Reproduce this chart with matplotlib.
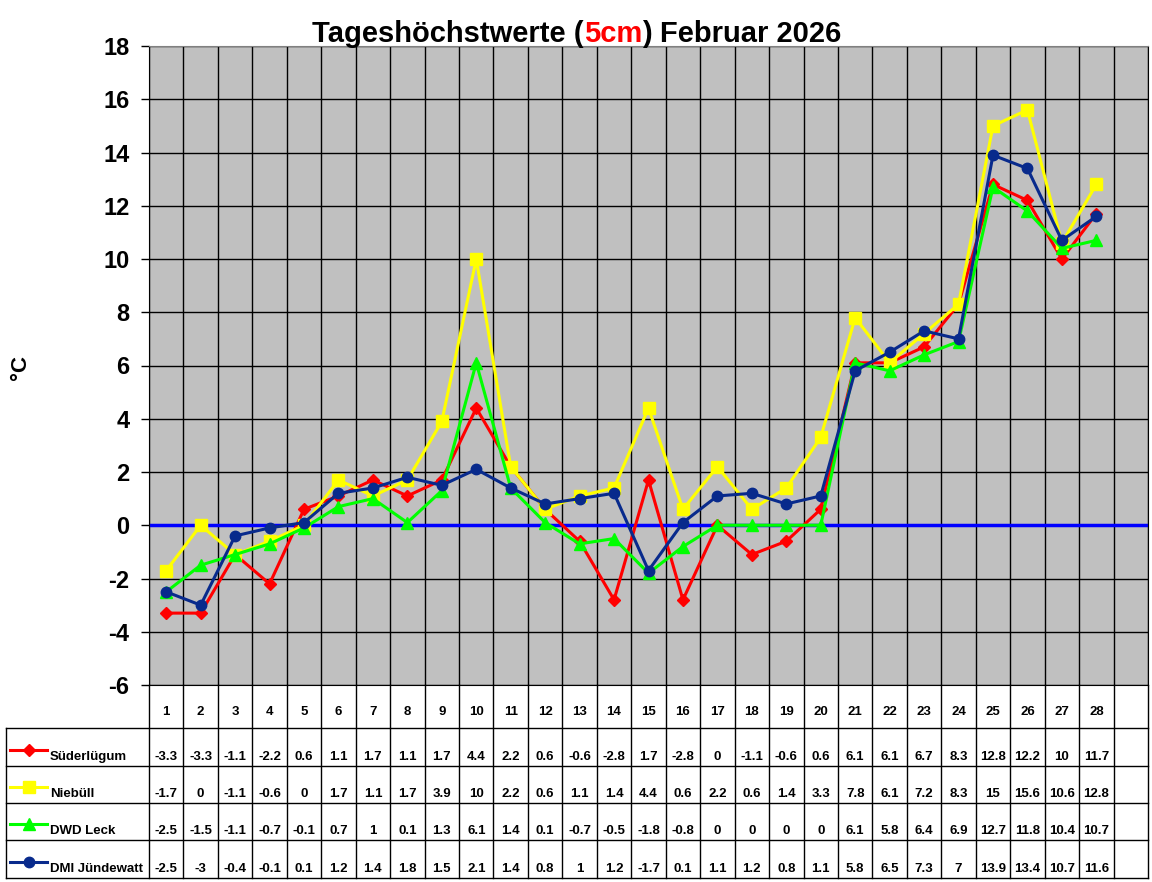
import matplotlib
matplotlib.use("Agg")
import matplotlib.pyplot as plt
import matplotlib.transforms as mtrans
from matplotlib.lines import Line2D

plt.rcParams['font.family'] = ['Liberation Sans', 'DejaVu Sans']
plt.rcParams['axes.unicode_minus'] = False

days = list(range(1, 29))
names = ["Süderlügum", "Niebüll", "DWD Leck", "DMI Jündewatt"]
suederluegum = [-3.3, -3.3, -1.1, -2.2, 0.6, 1.1, 1.7, 1.1, 1.7, 4.4, 2.2, 0.6, -0.6, -2.8,
                1.7, -2.8, 0, -1.1, -0.6, 0.6, 6.1, 6.1, 6.7, 8.3, 12.8, 12.2, 10, 11.7]
niebuell = [-1.7, 0, -1.1, -0.6, 0, 1.7, 1.1, 1.7, 3.9, 10, 2.2, 0.6, 1.1, 1.4,
            4.4, 0.6, 2.2, 0.6, 1.4, 3.3, 7.8, 6.1, 7.2, 8.3, 15, 15.6, 10.6, 12.8]
leck = [-2.5, -1.5, -1.1, -0.7, -0.1, 0.7, 1, 0.1, 1.3, 6.1, 1.4, 0.1, -0.7, -0.5,
        -1.8, -0.8, 0, 0, 0, 0, 6.1, 5.8, 6.4, 6.9, 12.7, 11.8, 10.4, 10.7]
juendewatt = [-2.5, -3, -0.4, -0.1, 0.1, 1.2, 1.4, 1.8, 1.5, 2.1, 1.4, 0.8, 1, 1.2,
              -1.7, 0.1, 1.1, 1.2, 0.8, 1.1, 5.8, 6.5, 7.3, 7, 13.9, 13.4, 10.7, 11.6]
series = [suederluegum, niebuell, leck, juendewatt]
colors = ["#FF0000", "#FFFF00", "#00FF00", "#082A8C"]
markers = ["D", "s", "^", "o"]
msizes = [6.5, 8.5, 8.5, 7.5]

W, H = 1152, 882
fig = plt.figure(figsize=(W / 100, H / 100), dpi=100)

def fx(px):
    return px / W

def fy(py):
    return 1 - py / H

ax = fig.add_axes([fx(149), fy(685), fx(1148) - fx(149), fy(46) - fy(685)])
ax.set_facecolor("#C0C0C0")
ax.set_xlim(0.5, 29.5)
ax.set_ylim(-6, 18)
ax.set_yticks(range(-6, 19, 2))
ax.set_xticks([d + 0.5 for d in range(0, 30)], minor=False)
ax.tick_params(axis="x", length=0, labelbottom=False)
ax.tick_params(axis="y", length=6, width=1, pad=8, labelsize=17)
for lab in ax.get_yticklabels():
    lab.set_fontweight("bold")
ax.grid(True, color="black", linewidth=1)
ax.set_axisbelow(True)
for s in ["left", "right", "bottom"]:
    ax.spines[s].set_color("black")
ax.spines["top"].set_color("#808080")

ax.axhline(0, color="#0000FF", linewidth=2.5, zorder=2)
for vals, c, m, ms in zip(series, colors, markers, msizes):
    ax.plot(days, vals, color=c, marker=m, markersize=ms, linewidth=2.2,
            markeredgecolor=c, zorder=3)

fig.text(0.018, fy(367), "°C", rotation=90, fontsize=16, fontweight="bold",
         ha="center", va="center")

# title with red part
parts = [("Tageshöchstwerte (", "black"), ("5cm", "#FF0000"), (") Februar 2026", "black")]
texts = [fig.text(0, fy(42), p, color=c, fontsize=21, fontweight="bold", va="baseline")
         for p, c in parts]
fig.canvas.draw()
r = fig.canvas.get_renderer()
widths = [t.get_window_extent(r).width for t in texts]
x0 = 577 - sum(widths) / 2
for t, w in zip(texts, widths):
    t.set_x(fx(x0))
    x0 += w

# table below the chart
blend = mtrans.blended_transform_factory(ax.transData, fig.transFigure)
rows_y = [685, 728, 766, 803, 840, 878]
for k in range(30):
    xb = 0.5 + k
    ax.plot([xb, xb], [fy(685), fy(878)], color="black", lw=1, transform=blend, clip_on=False)
for py in rows_y[1:]:
    fig.add_artist(Line2D([fx(6), fx(1148)], [fy(py), fy(py)], color="black", lw=1))
fig.add_artist(Line2D([fx(6), fx(6)], [fy(728), fy(878)], color="black", lw=1))

for d in days:
    ax.text(d, fy(712), str(d), transform=blend, ha="center", va="center",
            fontsize=9.5, fontweight="bold")

for i, (name, vals, c, m, ms) in enumerate(zip(names, series, colors, markers, msizes)):
    ybot = rows_y[i + 2]
    fig.add_artist(Line2D([fx(10), fx(28.5), fx(47)], [fy(ybot - 16)] * 3, color=c, lw=2.2,
                          marker=m, markersize=ms, markevery=[1], markeredgecolor=c))
    fig.text(fx(50), fy(ybot - 9), name, fontsize=9.5, fontweight="bold", va="center")
    for d, v in zip(days, vals):
        ax.text(d, fy(ybot - 9), "%g" % v, transform=blend, ha="center", va="center",
                fontsize=9.5, fontweight="bold")

fig.savefig("out.png", dpi=100)
